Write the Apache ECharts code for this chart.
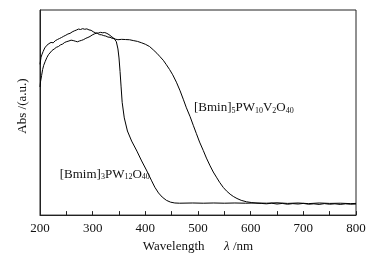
<!DOCTYPE html>
<html>
<head>
<meta charset="utf-8">
<script src="https://cdn.jsdelivr.net/npm/echarts@6/dist/echarts.min.js"></script>
<style>
  html, body { margin: 0; padding: 0; background: #fff; }
  #chart { width: 371px; height: 258px; }
</style>
</head>
<body>
<div id="chart"></div>
<script>
// x ticks
const xTicks = [200, 300, 400, 500, 600, 700, 800]

// [Bmim]3PW12O40 spectrum (wavelength nm / abs, arbitrary units)
const bmimNm = [200, 202, 204, 206, 209, 213, 217, 221, 225, 229, 233, 237, 241, 245, 249, 253, 257, 261, 265, 269,
  273, 277, 281, 285, 289, 293, 297, 301, 305, 309, 313, 317, 321, 325, 329, 333, 337, 341, 345, 348,
  350, 352, 354, 356, 360, 366, 374, 384, 393, 403, 412, 418, 425, 432, 440, 448, 456, 465, 490, 510,
  530, 550, 570, 590, 610, 630, 650, 670, 690, 710, 730, 750, 770, 790, 800]
const bmimAbs = [73.5, 77, 78.5, 79.8, 81.5, 82.8, 83.6, 84.2, 84.0, 85.0, 85.6, 86.1, 86.6, 87.2, 87.7, 88.3, 88.6, 89.3, 89.8, 90.2,
  90.7, 90.5, 90.9, 90.6, 90.8, 90.3, 90.1, 89.4, 88.9, 88.6, 88.0, 87.9, 87.5, 87.3, 86.8, 86.7, 86.2, 86.0, 84.5, 81,
  76.6, 70, 62.5, 55, 47.4, 41, 36.1, 31.2, 26.4, 21.5, 16.7, 13.6, 10.8, 8.8, 7.2, 6.3, 5.9, 5.8, 5.9, 5.8,
  5.9, 5.8, 5.9, 5.8, 5.9, 5.8, 6.0, 5.7, 5.9, 5.6, 5.9, 5.7, 5.8, 5.6, 5.7]

// [Bmin]5PW10V2O40 spectrum
const vNm = [200, 201, 203, 205, 207, 210, 213, 216, 219, 223, 227, 231, 235, 239, 243, 247, 251, 255, 259, 263,
  267, 271, 275, 279, 283, 287, 291, 295, 299, 303, 307, 311, 315, 319, 323, 327, 331, 335, 339, 343,
  348, 355, 362, 370, 377, 385, 393, 400, 408, 415, 422, 428, 434, 440, 446, 452, 459, 466, 472, 478,
  485, 491, 497, 503, 510, 516, 523, 529, 535, 541, 548, 554, 561, 567, 574, 582, 592, 602, 612, 620,
  630, 640, 650, 660, 670, 680, 690, 700, 710, 720, 730, 740, 750, 760, 770, 780, 790, 800]
const vAbs = [62.5, 65, 68, 71, 73, 75, 76.8, 78.2, 79, 80.3, 81.0, 81.8, 82.2, 83.0, 83.4, 84.2, 84.6, 84.9, 85.3, 85.1,
  84.8, 84.5, 84.9, 85.2, 85.6, 86.2, 86.6, 87.1, 87.8, 88.3, 88.7, 88.8, 89.1, 88.9, 89.0, 88.6, 88.0, 87.2, 86.4, 85.8,
  85.5, 85.7, 85.6, 85.5, 85.1, 84.7, 84.0, 83.3, 82.2, 80.6, 78.9, 77.2, 75.5, 73.3, 71, 68.4, 64.8, 60.6, 56.5, 52.3,
  48, 43.8, 39.7, 35.6, 31.5, 27.8, 24, 21, 18.5, 16, 13.5, 11.8, 10.2, 9.1, 8.1, 7.2, 6.5, 6.1, 5.8, 5.7,
  5.5, 5.8, 5.4, 5.7, 5.3, 5.6, 5.4, 5.7, 5.3, 5.5, 5.2, 5.6, 5.3, 5.5, 5.2, 5.5, 5.3, 5.4]

const font = 'Liberation Serif'

const zip = (xs, ys) => xs.map((x, i) => [x, ys[i]])

const labelRich = {
  m: { fontFamily: font, fontSize: 13, color: '#111', lineHeight: 14 },
  s: { fontFamily: font, fontSize: 8, color: '#111', lineHeight: 6, verticalAlign: 'bottom' }
}

const chart = echarts.init(document.getElementById('chart'))

chart.setOption({
  animation: false,
  grid: {
    left: 40, right: 15, top: 10, bottom: 42,
    show: true, borderColor: '#222', borderWidth: 1
  },
  xAxis: {
    type: 'value',
    min: 200, max: 800, interval: 100,
    name: '{t|Wavelength      }{l|λ}{t| /nm}',
    nameLocation: 'middle',
    nameGap: 23,
    nameTextStyle: {
      rich: {
        t: { fontFamily: font, fontSize: 13, color: '#111' },
        l: { fontFamily: font, fontSize: 13, color: '#111', fontStyle: 'italic' }
      }
    },
    axisLine: { lineStyle: { color: '#222', width: 1 } },
    axisTick: { inside: true, length: 4, lineStyle: { color: '#222' } },
    minorTick: { show: true, splitNumber: 2, length: 4, lineStyle: { color: '#222' } },
    splitLine: { show: false },
    axisLabel: {
      fontFamily: font, fontSize: 13, color: '#111', margin: 7,
      formatter: v => xTicks.includes(v) ? String(v) : ''
    }
  },
  yAxis: {
    type: 'value',
    min: 0, max: 100,
    name: 'Abs /(a.u.)',
    nameLocation: 'middle',
    nameGap: 11,
    nameTextStyle: { fontFamily: font, fontSize: 13, color: '#111', padding: [0, 0, 0, 13] },
    axisLine: { show: true, lineStyle: { color: '#222', width: 1 } },
    axisTick: { show: false },
    axisLabel: { show: false },
    splitLine: { show: false }
  },
  series: [
    {
      name: '[Bmim]3PW12O40',
      type: 'line',
      data: zip(bmimNm, bmimAbs),
      showSymbol: false,
      lineStyle: { color: '#000', width: 1 },
      markPoint: {
        symbol: 'circle', symbolSize: 0,
        data: [{ coord: [323, 19.9] }],
        label: {
          show: true, position: 'inside',
          formatter: '{m|[Bmim]}{s|3}{m|PW}{s|12}{m|O}{s|40}',
          rich: labelRich
        }
      }
    },
    {
      name: '[Bmin]5PW10V2O40',
      type: 'line',
      data: zip(vNm, vAbs),
      showSymbol: false,
      lineStyle: { color: '#000', width: 1 },
      markPoint: {
        symbol: 'circle', symbolSize: 0,
        data: [{ coord: [587, 52.4] }],
        label: {
          show: true, position: 'inside',
          formatter: '{m|[Bmin]}{s|5}{m|PW}{s|10}{m|V}{s|2}{m|O}{s|40}',
          rich: labelRich
        }
      }
    }
  ]
})
</script>
</body>
</html>
